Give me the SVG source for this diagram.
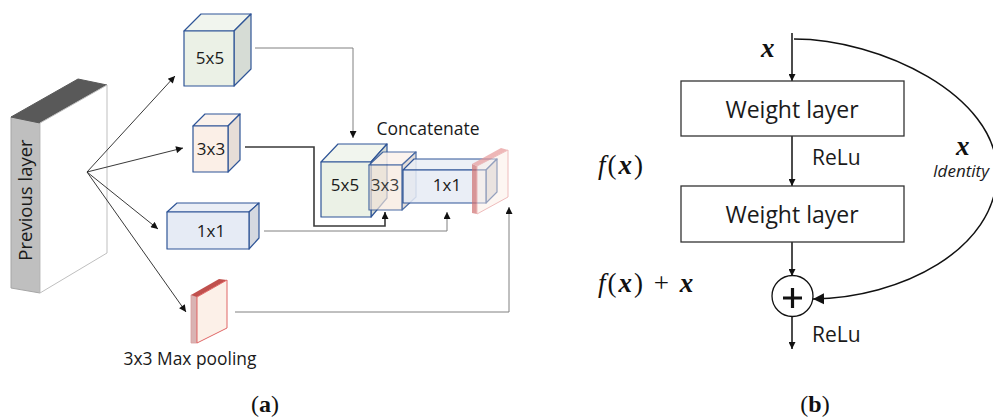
<svg xmlns="http://www.w3.org/2000/svg" width="993" height="419" viewBox="0 0 993 419">
<defs>
<style>
.t{font-family:"Open Sans","Liberation Sans",sans-serif;fill:#1a1a1a}
.m{font-family:"Liberation Serif","DejaVu Serif",serif;fill:#111}
.cb{stroke:#2F5597;stroke-width:1.2;stroke-linejoin:round}
.ln{fill:none;stroke:#808080;stroke-width:1}
.ar{fill:none;stroke:#222;stroke-width:0.9}
.box{fill:#fff;stroke:#333;stroke-width:1.3}
.bk{fill:none;stroke:#111;stroke-width:1.5}
</style>
<marker id="ah" viewBox="0 0 10 10" refX="10" refY="5" markerWidth="9" markerHeight="7" orient="auto" markerUnits="userSpaceOnUse"><path d="M0,0 L10,5 L0,10 z" fill="#111"/></marker>
<marker id="ahb" viewBox="0 0 10 10" refX="10" refY="5" markerWidth="11" markerHeight="13" orient="auto" markerUnits="userSpaceOnUse"><path d="M0,0 L10,5 L0,10 z" fill="#111"/></marker>
</defs>
<rect width="993" height="419" fill="#fff"/>

<g id="prev-layer">
<polygon points="11,117 40,123 40,293 11,288" fill="#BFBFBF" stroke="#A6A6A6"/>
<polygon points="11,117 78,79 107,85 40,123" fill="#595959" stroke="#595959"/>
<polygon points="40,123 107,85 107,253 40,293" fill="#fff" stroke="#BFBFBF"/>
<text class="t" transform="translate(32,200) rotate(-90)" text-anchor="middle" font-size="18.5">Previous layer</text>
</g>

<g id="cube-5x5">
<polygon class="cb" points="184,31 201,14 251,14 234,31" fill="#F1F5EE"/>
<polygon class="cb" points="234,31 251,14 251,69 234,86" fill="#D6DCD5"/>
<rect class="cb" x="184" y="31" width="50" height="55" fill="#EBF1E6"/>
<text class="t" x="210" y="64" text-anchor="middle" font-size="17">5x5</text>
</g>

<g id="cube-3x3">
<polygon class="cb" points="193,126 205,114 240,114 228,126" fill="#FBF2EC"/>
<polygon class="cb" points="228,126 240,114 240,160 228,172" fill="#E6DDD7"/>
<rect class="cb" x="193" y="126" width="35" height="46" fill="#FBEFE7"/>
<text class="t" x="211" y="155" text-anchor="middle" font-size="17">3x3</text>
</g>

<g id="cube-1x1">
<polygon class="cb" points="167,212 177,203 259,203 249,212" fill="#EAEEF6"/>
<polygon class="cb" points="249,212 259,203 259,238 249,249" fill="#D5D9E0"/>
<rect class="cb" x="167" y="212" width="82" height="37" fill="#E6EBF5"/>
<text class="t" x="211" y="237" text-anchor="middle" font-size="17">1x1</text>
</g>

<g id="maxpool">
<polygon points="191,295 197,297 197,343 191,343" fill="#D9B3B3" stroke="#D9A0A0" stroke-width="0.8"/>
<polygon points="191,295 219,279 227,280 197,297" fill="#C0504D"/>
<polygon points="197,297 227,280 227,328 197,343" fill="#FCF0E8" stroke="#E06666" stroke-width="1"/>
<text class="t" x="190" y="365" text-anchor="middle" font-size="17.4">3x3 Max pooling</text>
</g>

<g id="concat">
<text class="t" x="428" y="135" text-anchor="middle" font-size="17.5">Concatenate</text>
<g id="concat-5x5">
<polygon class="cb" points="321,162 338,144 387,144 371,162" fill="#F1F5EE"/>
<polygon class="cb" points="371,162 387,144 387,198 371,217" fill="#D6DCD5"/>
<rect class="cb" x="321" y="162" width="50" height="55" fill="#EBF1E6"/>
<text class="t" x="345" y="191" text-anchor="middle" font-size="17">5x5</text>
</g>
<g id="concat-3x3" opacity="0.85">
<polygon class="cb" points="369,165 383,152 416,152 402,165" fill="#FBF2EC"/>
<polygon class="cb" points="402,165 416,152 416,197 402,210" fill="#E0D8D2"/>
<rect class="cb" x="369" y="165" width="33" height="45" fill="#F8E8DC" fill-opacity="0.8"/>
<text class="t" x="385" y="191" text-anchor="middle" font-size="17">3x3</text>
</g>
<g id="concat-1x1">
<polygon class="cb" points="403,170 414,159 497,159 486,170" fill="#EAEEF6" fill-opacity="0.85"/>
<polygon class="cb" points="486,170 497,159 497,192 486,203" fill="#D9D9DC"/>
<rect class="cb" x="403" y="170" width="83" height="33" fill="#E6EBF5" fill-opacity="0.85"/>
<text class="t" x="447" y="191" text-anchor="middle" font-size="17">1x1</text>
</g>
<g id="concat-pool" opacity="0.7">
<polygon points="472,164 477,166 477,214 472,213" fill="#D07070"/>
<polygon points="472,164 501,148 508,150 477,166" fill="#E89A9A"/>
<polygon points="477,166 508,150 508,197 477,214" fill="#FCEEE6" fill-opacity="0.7" stroke="#E8A0A0" stroke-width="1"/>
</g>
</g>

<g id="connectors">
<line class="ar" x1="87" y1="172" x2="175" y2="76" marker-end="url(#ah)"/>
<line class="ar" x1="87" y1="172" x2="183" y2="148" marker-end="url(#ah)"/>
<line class="ar" x1="87" y1="172" x2="158" y2="229" marker-end="url(#ah)"/>
<line class="ar" x1="87" y1="172" x2="186" y2="312" marker-end="url(#ah)"/>
<polyline class="ln" points="255,48 353,48 353,138" marker-end="url(#ah)"/>
<polyline fill="none" stroke="#3a3a3a" stroke-width="1.6" points="245,147 314,147 314,226 385,226 385,212" marker-end="url(#ah)"/>
<polyline class="ln" points="264,231 447,231 447,212" marker-end="url(#ah)"/>
<polyline class="ln" points="235,312 509,312 509,207" marker-end="url(#ah)"/>

<line class="bk" x1="792" y1="33" x2="792" y2="81" marker-end="url(#ah)"/>
<line class="bk" x1="792" y1="136" x2="792" y2="186" marker-end="url(#ah)"/>
<line class="bk" x1="792" y1="242" x2="792" y2="276" marker-end="url(#ah)"/>
<line class="bk" x1="792" y1="317" x2="792" y2="349" marker-end="url(#ah)"/>
<path class="bk" d="M794,39 C880,39 997,95 997,172 C997,250 900,298 813,299" marker-end="url(#ahb)"/>
</g>

<g id="weight-layer-1">
<rect class="box" x="681" y="81" width="223" height="55"/>
<text class="t" x="792" y="118" text-anchor="middle" font-size="23">Weight layer</text>
</g>
<g id="weight-layer-2">
<rect class="box" x="681" y="186" width="223" height="56"/>
<text class="t" x="792" y="223" text-anchor="middle" font-size="23">Weight layer</text>
</g>
<g id="sum">
<circle cx="792.5" cy="296" r="20.5" fill="#fff" stroke="#111" stroke-width="1.3"/>
<path d="M783,298 H802 M792.5,288 V308" stroke="#111" stroke-width="3.2"/>
</g>

<text class="t" x="812" y="165" font-size="21">ReLu</text>
<text class="t" x="812" y="342" font-size="21">ReLu</text>
<text class="m" x="761" y="57" font-size="27" font-style="italic" font-weight="bold">x</text>
<text class="m" x="598" y="174" font-size="27" letter-spacing="2"><tspan font-style="italic">f</tspan>(<tspan font-style="italic" font-weight="bold">x</tspan>)</text>
<text class="m" x="598" y="292" font-size="27" letter-spacing="2"><tspan font-style="italic">f</tspan>(<tspan font-style="italic" font-weight="bold">x</tspan>) + <tspan font-style="italic" font-weight="bold">x</tspan></text>
<text class="m" x="956" y="155" font-size="27" font-style="italic" font-weight="bold">x</text>
<text class="t" x="933" y="177" font-size="17" font-style="italic">Identity</text>

<text class="m" x="265" y="412" text-anchor="middle" font-size="24"><tspan>(</tspan><tspan font-weight="bold">a</tspan><tspan>)</tspan></text>
<text class="m" x="815" y="412" text-anchor="middle" font-size="24"><tspan>(</tspan><tspan font-weight="bold">b</tspan><tspan>)</tspan></text>
</svg>
